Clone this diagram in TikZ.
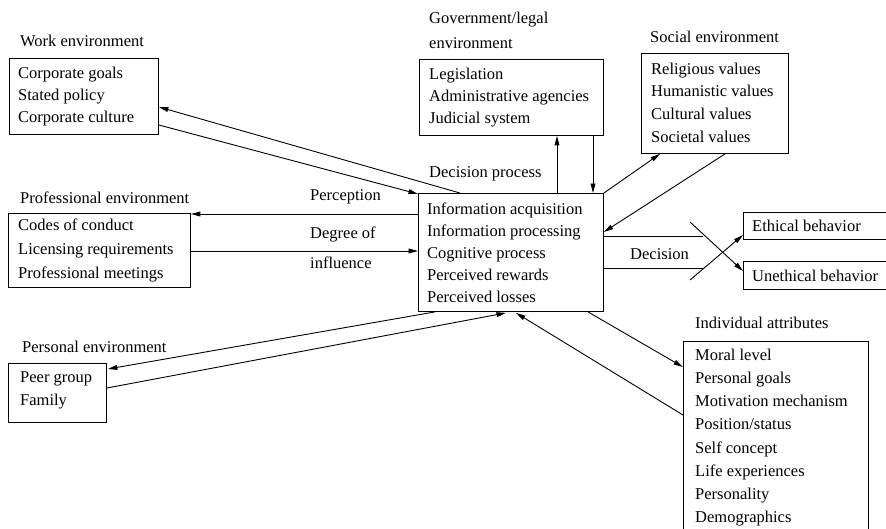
\documentclass[tikz,border=0pt]{standalone}
\usepackage{fontspec}
\setmainfont{Liberation Serif}
\usetikzlibrary{arrows.meta}

\begin{document}
\begin{tikzpicture}[x=1pt,y=-1pt,
  every node/.style={inner sep=0pt, font=\fontsize{16.5}{22}\selectfont},
  lbl/.style={anchor=west, align=left},
  frame/.style={draw, line width=0.9pt, anchor=north west},
  btext/.style={anchor=west, align=left},
  link/.style={line width=0.9pt},
  arr/.style={link, -{Triangle[length=9.5pt,width=4.8pt]}},
]
\useasboundingbox (0,0) rectangle (886,528);
\fill[white] (0,0) rectangle (886,528);
\clip (0,0) rectangle (886,528);

% ---- boxes ----
\node[frame, minimum width=149pt, minimum height=76pt] (work) at (9,58) {};
\node[btext] (work-t) at ([xshift=9pt]work.west) {Corporate goals\\Stated policy\\Corporate culture};

\node[frame, minimum width=182pt, minimum height=74pt] (prof) at (8,213) {};
\node[btext, font=\fontsize{16.5}{24}\selectfont] (prof-t) at ([xshift=10pt]prof.west) {Codes of conduct\\Licensing requirements\\Professional meetings};

\node[frame, minimum width=184pt, minimum height=76pt] (gov) at (419,59) {};
\node[btext] (gov-t) at ([xshift=10pt]gov.west) {Legislation\\Administrative agencies\\Judicial system};

\node[frame, minimum width=147pt, minimum height=100pt] (soc) at (641,53) {};
\node[btext, font=\fontsize{16.5}{22.7}\selectfont] (soc-t) at ([shift={(10,-1)}]soc.west) {Religious values\\Humanistic values\\Cultural values\\Societal values};

\node[frame, minimum width=185pt, minimum height=118pt] (dec) at (418,193) {};
\node[btext] (dec-t) at ([xshift=9pt]dec.west) {Information acquisition\\Information processing\\Cognitive process\\Perceived rewards\\Perceived losses};

\node[frame, minimum width=98pt, minimum height=59pt] (pers) at (8,363) {};
\node[btext, font=\fontsize{16.5}{23}\selectfont] (pers-t) at ([shift={(12,-3)}]pers.west) {Peer group\\Family};

\node[frame, minimum width=185pt, minimum height=200pt] (ind) at (683,341) {};
\node[btext, font=\fontsize{16.5}{23.2}\selectfont] (ind-t) at ([shift={(12,-4)}]ind.west) {Moral level\\Personal goals\\Motivation mechanism\\Position/status\\Self concept\\Life experiences\\Personality\\Demographics};

\node[frame, minimum width=150pt, minimum height=27pt] (eth) at (743,212) {};
\node[btext] (eth-t) at ([xshift=9pt]eth.west) {Ethical behavior};

\node[frame, minimum width=150pt, minimum height=28pt] (uneth) at (743,261) {};
\node[btext] (uneth-t) at ([xshift=9pt]uneth.west) {Unethical behavior};

% ---- headings and labels ----
\node[lbl] (work-h) at (20,41) {Work environment};
\node[lbl] (prof-h) at (20,198) {Professional environment};
\node[lbl, font=\fontsize{16.5}{25}\selectfont] (gov-h) at (429,30.5) {Government/legal\\environment};
\node[lbl] (soc-h) at (650,37) {Social environment};
\node[lbl] (ind-h) at (695,323) {Individual attributes};
\node[lbl] (pers-h) at (22,347) {Personal environment};
\node[lbl] (perc) at (310,197) {Perception};
\node[lbl, font=\fontsize{16.5}{30}\selectfont] (infl) at (310,248) {Degree of\\influence};
\node[lbl] (dproc) at (429,174) {Decision process};
\node[lbl] (dlab) at (630,254) {Decision};

% ---- work environment ----
\draw[arr] ([shift={(42,0)}]dec.north west) -- ([shift={(0,49)}]work.north east);
\draw[arr] ([shift={(0,67)}]work.north east) -- ([shift={(0,1)}]dec.north west);

% ---- professional environment ----
\draw[arr] ([shift={(0,21)}]dec.north west) -- ([shift={(0,1)}]prof.north east);
\draw[arr] ([shift={(0,38)}]prof.north east) -- ([shift={(0,58)}]dec.north west);

% ---- government/legal environment ----
\draw[arr] ([shift={(139,0)}]dec.north west) -- ([shift={(138,0)}]gov.south west);
\draw[arr] ([shift={(174,0)}]gov.south west) -- ([shift={(175,0)}]dec.north west);

% ---- social environment ----
\draw[arr] (dec.north east) -- ([shift={(19,0)}]soc.south west);
\draw[arr] ([shift={(84,0)}]soc.south west) -- ([shift={(0,39)}]dec.north east);

% ---- decision outcome ----
\coordinate (hA) at (703,236);
\coordinate (hB) at (704,268);
\coordinate (dA) at (690,222);
\coordinate (dB) at (690,280);
\draw[link] ([shift={(0,43)}]dec.north east) -- (hA);
\draw[link] ([shift={(0,75)}]dec.north east) -- (hB);
\draw[arr] (dA) -- ([shift={(0,10)}]uneth.north west);
\draw[arr] (dB) -- ([shift={(0,23)}]eth.north west);

% ---- individual attributes ----
\draw[arr] ([shift={(170,0)}]dec.south west) -- ([shift={(0,26)}]ind.north west);
\draw[arr] ([shift={(0,74)}]ind.north west) -- ([shift={(98,1)}]dec.south west);

% ---- personal environment ----
\draw[arr] ([shift={(17,0)}]dec.south west) -- ([shift={(1,6)}]pers.north east);
\draw[arr] ([shift={(0,25)}]pers.north east) -- ([shift={(88,1)}]dec.south west);
\end{tikzpicture}
\end{document}
